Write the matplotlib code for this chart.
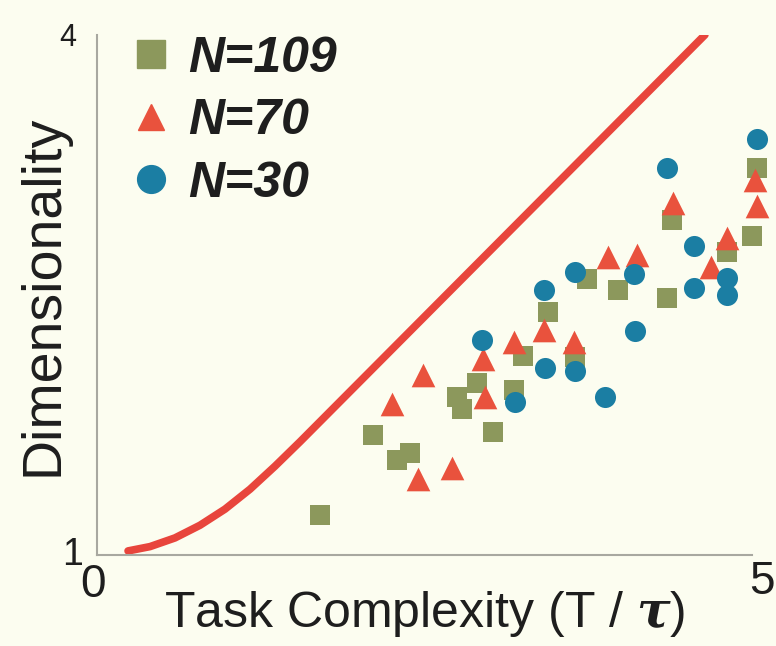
import matplotlib.pyplot as plt
import matplotlib.transforms as mtransforms
from matplotlib.lines import Line2D

plt.rcParams['font.family'] = ['Liberation Sans', 'DejaVu Sans']
plt.rcParams['mathtext.fontset'] = 'dejavuserif'

# theory curve
line_x = [0.237, 0.405, 0.595, 0.786, 0.977, 1.168, 1.359, 1.550, 4.641]
line_y = [1.023, 1.048, 1.098, 1.171, 1.264, 1.379, 1.512, 1.653, 4.000]

# N=109 (squares)
n109_x = [1.70, 2.11, 2.29, 2.39, 2.75, 2.90, 2.79, 3.02, 3.18, 3.25, 3.44, 3.65,
          3.74, 3.98, 4.35, 4.39, 4.81, 5.00, 5.04]
n109_y = [1.23, 1.69, 1.55, 1.59, 1.91, 1.99, 1.84, 1.71, 1.95, 2.15, 2.40, 2.14,
          2.59, 2.53, 2.48, 2.93, 2.75, 2.84, 3.23]

# N=70 (triangles)
n70_x = [2.25, 2.49, 2.45, 2.71, 2.95, 2.96, 3.18, 3.41, 3.64, 3.90, 4.12, 4.40,
         4.69, 4.81, 5.02, 5.04]
n70_y = [1.87, 2.04, 1.44, 1.50, 2.13, 1.91, 2.23, 2.30, 2.23, 2.72, 2.73, 3.03,
         2.66, 2.83, 3.16, 3.01]

# N=30 (circles)
n30_x = [2.94, 3.42, 3.41, 3.65, 3.88, 4.11, 4.10, 3.19, 3.65, 4.35, 4.56, 4.56,
         4.81, 4.81, 5.04]
n30_y = [2.24, 2.08, 2.53, 2.63, 1.91, 2.29, 2.62, 1.88, 2.06, 3.23, 2.78, 2.54,
         2.60, 2.50, 3.40]

bg = '#fcfdf0'
c_sq = '#8c985c'
c_tri = '#e9523d'
c_dot = '#1b7ea3'
c_line = '#e8453c'
txt = '#1e1e1e'

fig = plt.figure(figsize=(7.76, 6.46), dpi=100, facecolor=bg)
ax = fig.add_axes([0.125, 0.141, 0.844, 0.805], facecolor=bg)

ax.plot(line_x, line_y, color=c_line, lw=5.5, solid_capstyle='round', zorder=1)
ax.scatter(n109_x, n109_y, marker='s', s=200, color=c_sq, lw=0, clip_on=False, zorder=2)
ax.scatter(n70_x, n70_y, marker='^', s=290, color=c_tri, lw=0, clip_on=False, zorder=3)
ax.scatter(n30_x, n30_y, marker='o', s=230, color=c_dot, lw=0, clip_on=False, zorder=4)

ax.set_xlim(0, 5)
ax.set_ylim(1, 4)
for s in ['top', 'right']:
    ax.spines[s].set_visible(False)
for s in ['left', 'bottom']:
    ax.spines[s].set_color('#a8a8a0')
    ax.spines[s].set_linewidth(1.5)

ax.set_xticks([0, 5])
ax.set_yticks([1, 4])
ax.tick_params(length=0, colors=txt)
ax.tick_params(axis='x', labelsize=33, pad=6, labelcolor=txt)
ax.tick_params(axis='y', labelsize=22, pad=8, labelcolor=txt)

# nudge tick labels like the original
off = lambda dx, dy: mtransforms.ScaledTranslation(dx, dy, fig.dpi_scale_trans)
xl = ax.get_xticklabels()
xl[0].set_transform(xl[0].get_transform() + off(-0.04, 0))
xl[1].set_transform(xl[1].get_transform() + off(0.10, 0.03))
yl = ax.get_yticklabels()
yl[0].set_fontsize(27)
yl[0].set_transform(yl[0].get_transform() + off(-0.03, 0.04))
yl[1].set_transform(yl[1].get_transform() + off(-0.10, 0))

ax.set_xlabel(r'Task Complexity (T / $\boldsymbol{\tau}$)', fontsize=36, color=txt, labelpad=-13)
ax.set_ylabel('Dimensionality', fontsize=40, color=txt, labelpad=-8)

handles = [
    Line2D([], [], marker='s', ls='', color=c_sq, markersize=20),
    Line2D([], [], marker='^', ls='', color=c_tri, markersize=19),
    Line2D([], [], marker='o', ls='', color=c_dot, markersize=20),
]
ax.legend(handles, ['N=109', 'N=70', 'N=30'], loc='upper left',
          bbox_to_anchor=(0.044, 0.998), borderaxespad=0, borderpad=0,
          frameon=False, handletextpad=0.25, labelspacing=0.33, handlelength=1.0,
          labelcolor=txt, prop={'size': 36, 'weight': 'bold', 'style': 'italic'})

fig.savefig('out.png', dpi=100, facecolor=bg)
